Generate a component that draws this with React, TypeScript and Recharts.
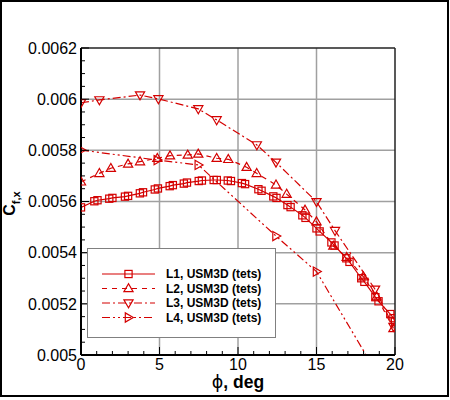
import React from 'react';
import { LineChart, Line, XAxis, YAxis, CartesianGrid, ReferenceLine, Legend, Label } from 'recharts';

const RED = '#d40000';
const FONT = '"Liberation Sans", Arial, Helvetica, sans-serif';

const phiL1 = [0, 0.85, 1.05, 1.8, 2.0, 2.8, 3.0, 3.75, 3.95, 4.7, 4.9, 5.65, 5.85, 6.55, 6.75, 7.5, 7.7, 8.45, 8.65, 9.35, 9.55, 10.25, 10.45, 11.3, 11.5, 12.25, 12.45, 13.15, 13.35, 14.1, 14.3, 15.0, 15.2, 15.95, 16.15, 16.9, 17.1, 17.85, 18.05, 18.75, 18.95, 19.7, 19.9, 20];
const cfL1 = [0.005577, 0.005601, 0.005605, 0.005611, 0.005614, 0.005619, 0.005622, 0.005632, 0.005636, 0.005647, 0.005651, 0.00566, 0.005664, 0.00567, 0.005674, 0.00568, 0.005682, 0.005684, 0.005684, 0.005682, 0.00568, 0.005672, 0.005668, 0.005648, 0.005642, 0.00562, 0.005614, 0.005586, 0.005578, 0.005546, 0.005536, 0.005495, 0.005483, 0.00544, 0.005428, 0.005378, 0.005364, 0.0053, 0.005286, 0.005226, 0.00521, 0.00516, 0.005144, 0.00513];

const phiL2 = [0, 1.17, 1.9, 3.0, 3.76, 4.86, 5.67, 6.8, 7.47, 8.64, 9.38, 10.55, 11.19, 12.42, 13.1, 14.27, 15.0, 16.07, 16.92, 17.98, 18.83, 19.9];
const cfL2 = [0.005677, 0.00571, 0.00573, 0.005747, 0.005756, 0.005769, 0.005779, 0.005782, 0.005786, 0.005769, 0.005765, 0.005734, 0.00571, 0.005665, 0.005629, 0.005567, 0.005521, 0.005426, 0.005382, 0.005306, 0.005228, 0.005104];

const phiL3 = [0, 1.17, 3.76, 4.93, 7.47, 8.64, 11.2, 12.42, 15.0, 16.18, 18.73, 19.9];
const cfL3 = [0.005986, 0.005997, 0.006016, 0.006001, 0.005962, 0.005919, 0.005821, 0.005753, 0.005599, 0.005486, 0.005257, 0.005111];

const phiL4 = [0, 4.86, 7.47, 12.42, 15.0, 19.9];
const cfL4 = [0.005801, 0.005762, 0.005743, 0.005465, 0.005326, 0.00482];

const seriesNames = ['L1, USM3D (tets)', 'L2, USM3D (tets)', 'L3, USM3D (tets)', 'L4, USM3D (tets)'];
const seriesMarkers = ['square', 'up', 'down', 'right'];
const seriesDashes = [undefined, '5 5', '8 3 2 3', '8 3 2 3 2 3'];

const xTicks = [0, 1, 2, 3, 4, 5, 6, 7, 8, 9, 10, 11, 12, 13, 14, 15, 16, 17, 18, 19, 20];
const xGridValues = [5, 10, 15];
const yTicks = [0.005, 0.00505, 0.0051, 0.00515, 0.0052, 0.00525, 0.0053, 0.00535, 0.0054, 0.00545, 0.0055, 0.00555, 0.0056, 0.00565, 0.0057, 0.00575, 0.0058, 0.00585, 0.0059, 0.00595, 0.006, 0.00605, 0.0061, 0.00615, 0.0062];
const yTickLabels = ['0.005', '0.0052', '0.0054', '0.0056', '0.0058', '0.006', '0.0062'];
const yGridValues = [0.0052, 0.0054, 0.0056, 0.0058, 0.006];

const toRows = (phi: number[], cf: number[]) => phi.map((p, i) => ({ phi: p, cf: cf[i] }));
const seriesData = [toRows(phiL1, cfL1), toRows(phiL2, cfL2), toRows(phiL3, cfL3), toRows(phiL4, cfL4)];

function Marker({ kind, cx, cy }: { kind: string; cx: number; cy: number }) {
  if (cx == null || cy == null || isNaN(cx) || isNaN(cy)) return null;
  const common = { fill: 'none', stroke: RED, strokeWidth: 1.2 };
  if (kind === 'square') {
    const s = 3.6;
    return <rect x={cx - s} y={cy - s} width={2 * s} height={2 * s} {...common} />;
  }
  let pts = '';
  if (kind === 'up') pts = `${cx},${cy - 4.8} ${cx - 4.6},${cy + 3.2} ${cx + 4.6},${cy + 3.2}`;
  else if (kind === 'down') pts = `${cx},${cy + 4.8} ${cx - 4.6},${cy - 3.2} ${cx + 4.6},${cy - 3.2}`;
  else pts = `${cx + 4.8},${cy} ${cx - 3.2},${cy - 4.6} ${cx - 3.2},${cy + 4.6}`;
  return <polygon points={pts} {...common} />;
}

const XTick = (props: any) => {
  const { x, y, payload } = props;
  const v = payload.value;
  const major = v % 5 === 0;
  return (
    <g>
      <line x1={x} y1={y} x2={x} y2={y - (major ? 8 : 4)} stroke="#000" strokeWidth={1} />
      {major && (
        <text x={x} y={y + 3} dy="0.72em" textAnchor="middle" fontFamily={FONT} fontSize={16} fill="#000">
          {String(v)}
        </text>
      )}
    </g>
  );
};

const YTick = (props: any) => {
  const { x, y, index } = props;
  const major = index % 4 === 0;
  return (
    <g>
      <line x1={x} y1={y} x2={x + (major ? 8 : 4)} y2={y} stroke="#000" strokeWidth={1} />
      {major && (
        <text x={x - 4} y={y} dy="0.36em" textAnchor="end" fontFamily={FONT} fontSize={16} fill="#000">
          {yTickLabels[index / 4]}
        </text>
      )}
    </g>
  );
};

const XLabel = (props: any) => {
  const vb = props.viewBox || { x: 81, y: 355, width: 314, height: 45 };
  return (
    <text x={vb.x + vb.width / 2} y={vb.y + 33} textAnchor="middle" fontFamily={FONT} fontSize={17.5} fontWeight="bold" fill="#000">
      <tspan fontWeight="normal" fontFamily='"DejaVu Sans", sans-serif'>ϕ</tspan>
      <tspan>, deg</tspan>
    </text>
  );
};

const YLabel = (props: any) => {
  const vb = props.viewBox || { x: 0, y: 48, width: 81, height: 307 };
  const cx = 15;
  const cy = vb.y + vb.height / 2 + 2;
  return (
    <text x={cx} y={cy} transform={`rotate(-90, ${cx}, ${cy})`} textAnchor="middle" fontFamily={FONT} fontWeight="bold" fill="#000">
      <tspan fontSize={16}>C</tspan>
      <tspan fontSize={11} dy={5}>f,x</tspan>
    </text>
  );
};

const LegendBox = () => (
  <div style={{ width: 189, height: 90, border: '1px solid #808080', background: '#fff', boxSizing: 'border-box', position: 'relative' }}>
    <svg width={189} height={90} style={{ position: 'absolute', left: -1, top: -1, overflow: 'visible' }}>
      {seriesNames.map((name, i) => {
        const y = 26 + i * 14.5;
        return (
          <g key={name}>
            <line x1={15} x2={68} y1={y} y2={y} stroke={RED} strokeWidth={1.2} strokeDasharray={seriesDashes[i]} />
            <Marker kind={seriesMarkers[i]} cx={41.5} cy={y} />
            <text x={79} y={y + 4.3} fontFamily={FONT} fontWeight="bold" fontSize={12} fill="#000">
              {name}
            </text>
          </g>
        );
      })}
    </svg>
  </div>
);

export default function App() {
  return (
    <div style={{ position: 'absolute', left: 0, top: 0, width: 450, height: 400, background: '#fff' }}>
      <LineChart width={450} height={400} margin={{ top: 48, right: 55, bottom: 0, left: 0 }}>
        <CartesianGrid stroke="#a0a0a0" strokeWidth={1.5} horizontalValues={yGridValues} verticalValues={xGridValues} />
        <XAxis
          type="number"
          dataKey="phi"
          domain={[0, 20]}
          ticks={xTicks}
          interval={0}
          height={45}
          tickSize={0}
          tickMargin={0}
          tickLine={false}
          tick={(p: any) => <XTick {...p} />}
          axisLine={{ stroke: '#000', strokeWidth: 2 }}
          allowDataOverflow
        >
          <Label content={XLabel} />
        </XAxis>
        <YAxis
          type="number"
          domain={[0.005, 0.0062]}
          ticks={yTicks}
          interval={0}
          width={81}
          tickSize={0}
          tickMargin={0}
          tickLine={false}
          tick={(p: any) => <YTick {...p} />}
          axisLine={{ stroke: '#000', strokeWidth: 2 }}
          allowDataOverflow
        >
          <Label content={YLabel} />
        </YAxis>
        <ReferenceLine y={0.0062} stroke="#222" strokeWidth={1.5} />
        <ReferenceLine x={20} stroke="#222" strokeWidth={1.5} />
        {seriesData.map((rows, i) => (
          <Line
            key={seriesNames[i]}
            name={seriesNames[i]}
            data={rows}
            dataKey="cf"
            type="linear"
            stroke={RED}
            strokeWidth={1.2}
            strokeDasharray={seriesDashes[i]}
            isAnimationActive={false}
            activeDot={false}
            dot={(p: any) => <Marker key={`${i}-${p.index}`} kind={seriesMarkers[i]} cx={p.cx} cy={p.cy} />}
          />
        ))}
        <Legend
          layout="vertical"
          verticalAlign="middle"
          align="center"
          wrapperStyle={{ left: 87, top: 248, width: 189, height: 90 }}
          content={() => <LegendBox />}
        />
      </LineChart>
      <div style={{ position: 'absolute', left: 0, top: 0, width: 449, height: 397, border: '2px solid #000', boxSizing: 'border-box', pointerEvents: 'none' }} />
    </div>
  );
}
